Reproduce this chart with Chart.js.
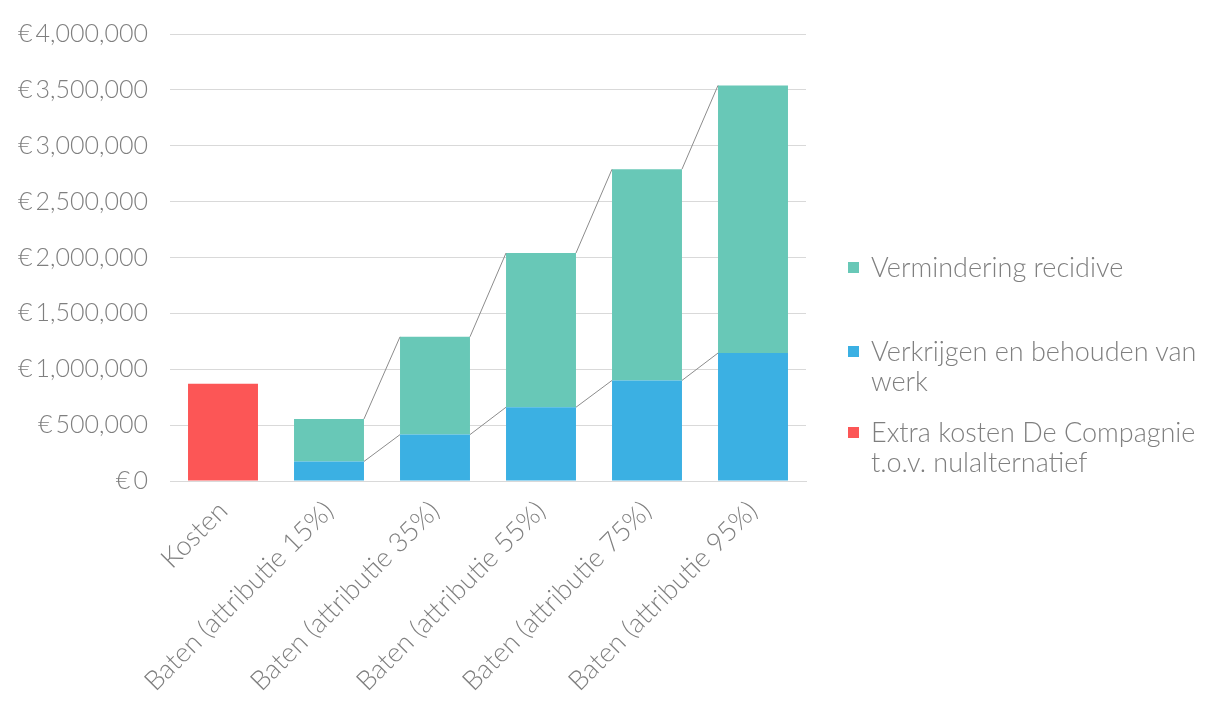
<!DOCTYPE html>
<html>
<head>
<meta charset="utf-8">
<script src="https://cdn.jsdelivr.net/npm/chart.js@4"></script>
<style>
    html, body { margin: 0; padding: 0; background: #fff; }
    #wrap { position: relative; width: 1205px; height: 702px; }
    #legend { position: absolute; left: 847px; top: 252px; width: 358px;
              font-family: Lato, sans-serif; font-weight: 300; font-size: 27px; color: #7f7f7f; }
    .item { position: relative; padding-left: 24px; line-height: 30px; white-space: nowrap; }
    .item span.box { position: absolute; left: 1px; top: 10px; width: 11px; height: 11px; }
</style>
</head>
<body>
<div id="wrap">
    <canvas id="chart" width="1205" height="702"></canvas>
    <div id="legend"></div>
</div>
<script>
const categories = ['Kosten', 'Baten (attributie 15%)', 'Baten (attributie 35%)',
    'Baten (attributie 55%)', 'Baten (attributie 75%)', 'Baten (attributie 95%)'];
const kosten = [870000, null, null, null, null, null];
const werk = [null, 175000, 415000, 660000, 900000, 1145000];
const recidive = [null, 380000, 875000, 1380000, 1890000, 2395000];

const labelWerk = 'Verkrijgen en behouden van werk';
const labelRecidive = 'Vermindering recidive';
const labelKosten = 'Extra kosten De Compagnie t.o.v. nulalternatief';

const textColor = '#7f7f7f';

// grey lines joining the segment tops of the baten bars
const seriesLines = {
    id: 'seriesLines',
    afterDatasetsDraw(chart) {
        let ctx = chart.ctx;
        ctx.save();
        ctx.strokeStyle = '#8c8c8c';
        ctx.lineWidth = 1;
        [0, 1].forEach(d => {
            let bars = chart.getDatasetMeta(d).data;
            for (let i = 1; i < bars.length - 1; i++) {
                let a = bars[i], b = bars[i + 1];
                ctx.beginPath();
                ctx.moveTo(a.x + a.width / 2, a.y);
                ctx.lineTo(b.x - b.width / 2, b.y);
                ctx.stroke();
            }
        });
        ctx.restore();
    }
};

let chart = new Chart(document.getElementById('chart'), {
    type: 'bar',
    data: {
        labels: categories,
        datasets: [
            { label: labelWerk, data: werk, backgroundColor: '#3bb0e3' },
            { label: labelRecidive, data: recidive, backgroundColor: '#68c8b7' },
            { label: labelKosten, data: kosten, backgroundColor: '#fc5656' }
        ]
    },
    options: {
        responsive: false,
        animation: false,
        layout: { padding: { top: 34, right: 399, left: 0, bottom: 0 } },
        datasets: { bar: { categoryPercentage: 1, barPercentage: 0.66, skipNull: false } },
        plugins: { legend: { display: false }, tooltip: { enabled: false } },
        scales: {
            x: {
                stacked: true,
                grid: { display: false, drawTicks: false },
                border: { color: '#d9d9d9' },
                ticks: {
                    font: { family: 'Lato, sans-serif', size: 27, weight: '300' },
                    color: textColor, minRotation: 45, maxRotation: 45, padding: 14
                },
                afterFit(scale) { scale.height = 221; }
            },
            y: {
                stacked: true,
                min: 0,
                max: 4000000,
                grid: { color: '#d9d9d9', drawTicks: false },
                border: { display: false },
                ticks: {
                    stepSize: 500000,
                    font: { family: 'Lato, sans-serif', size: 25, weight: '300' },
                    color: textColor,
                    padding: 22,
                    callback: v => '€\u2009' + v.toLocaleString('en-US')
                },
                afterFit(scale) {
                    scale.width = 170;
                    scale.paddingTop = 15;
                    scale.paddingBottom = 15;
                }
            }
        }
    },
    plugins: [seriesLines]
});

// legend on the right, in the order of the reference
let legend = document.getElementById('legend');
[[labelRecidive, '#68c8b7', 'Vermindering recidive'],
 [labelWerk, '#3bb0e3', 'Verkrijgen en behouden van<br>werk'],
 [labelKosten, '#fc5656', 'Extra kosten De Compagnie<br>t.o.v. nulalternatief']].forEach((it, i) => {
    let div = document.createElement('div');
    div.className = 'item';
    div.style.marginBottom = i === 0 ? '54px' : '21px';
    div.innerHTML = '<span class="box" style="background:' + it[1] + '"></span>' + it[2];
    legend.appendChild(div);
});
</script>
</body>
</html>
